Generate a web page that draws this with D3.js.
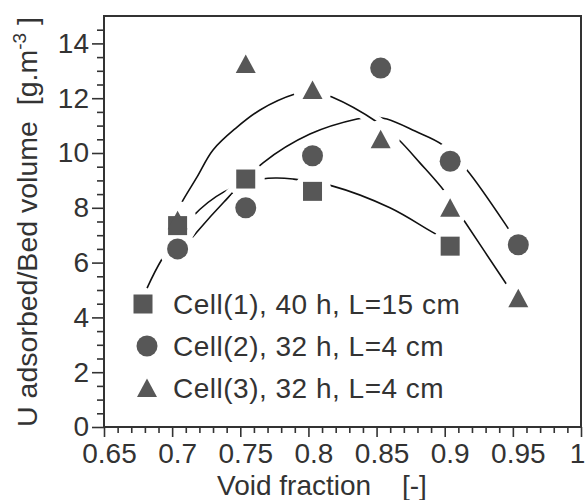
<!DOCTYPE html>
<html>
<head>
<meta charset="utf-8">
<script src="https://cdn.jsdelivr.net/npm/d3@7"></script>
<style>
  body { margin: 0; background: #fff; }
  text { font-family: "Liberation Sans", Arial, Helvetica, sans-serif; fill: #333; white-space: pre; }
</style>
</head>
<body>
<script>
/* global d3 */

// Data
const cell1X = [0.704, 0.754, 0.803, 0.904];
const cell1Y = [7.35, 9.05, 8.6, 6.6];
const cell2X = [0.704, 0.754, 0.803, 0.853, 0.904, 0.954];
const cell2Y = [6.5, 8.0, 9.9, 13.1, 9.7, 6.65];
const cell3X = [0.704, 0.754, 0.803, 0.853, 0.904, 0.954];
const cell3Y = [7.55, 13.25, 12.3, 10.5, 8.0, 4.7];

// Fitted curves
const fit1X = [0.6816, 0.6926, 0.7146, 0.738, 0.7659, 0.7769, 0.7887, 0.8173, 0.8598, 0.8906, 0.9039];
const fit1Y = [5.07, 6.13, 7.66, 8.58, 9.05, 9.09, 9.05, 8.8, 8.0, 7.12, 6.75];
const fit2X = [0.7036, 0.7182, 0.738, 0.7667, 0.8011, 0.8356, 0.8466, 0.8576, 0.8782, 0.8987, 0.9163, 0.9464, 0.953];
const fit2Y = [6.24, 7.12, 8.21, 9.64, 10.69, 11.24, 11.31, 11.24, 10.8, 10.29, 9.38, 7.26, 6.75];
const fit3X = [0.7036, 0.7072, 0.7182, 0.73, 0.7468, 0.7645, 0.7901, 0.8026, 0.8173, 0.8503, 0.8657, 0.8818, 0.9002, 0.9149, 0.9457, 0.953];
const fit3Y = [7.85, 8.21, 9.12, 10.11, 10.91, 11.57, 12.15, 12.26, 12.04, 11.13, 10.51, 9.64, 8.58, 7.48, 5.18, 4.64];

const legendLabels = ['Cell(1), 40 h, L=15 cm', 'Cell(2), 32 h, L=4 cm', 'Cell(3), 32 h, L=4 cm'];
const xTicks = [0.65, 0.7, 0.75, 0.8, 0.85, 0.9, 0.95, 1];
const xTickLabels = ['0.65', '0.7', '0.75', '0.8', '0.85', '0.9', '0.95', '1'];
const yTicks = [0, 2, 4, 6, 8, 10, 12, 14];

const width = 585;
const height = 500;
const markColor = '#575757';
const inkColor = '#333';

const svg = d3.select('body')
.append('svg')
.attr('width', width)
.attr('height', height);

// Scales
const xScale = d3.scaleLinear().domain([0.65, 1]).range([104, 581]);
const yScale = d3.scaleLinear().domain([0, 15]).range([427, 16]);

const series = [
    { shape: 'square', x: cell1X, y: cell1Y, fx: fit1X, fy: fit1Y },
    { shape: 'circle', x: cell2X, y: cell2Y, fx: fit2X, fy: fit2Y },
    { shape: 'triangle', x: cell3X, y: cell3Y, fx: fit3X, fy: fit3Y }
];

// Axes
const minorX = d3.range(65, 101).map(d => d / 100).filter(d => Math.round(d * 100) % 5 !== 0);
const minorY = d3.range(0, 30).map(d => d / 2).filter(d => d % 2 !== 0);

svg.append('g')
.attr('transform', 'translate(0,427)')
.call(d3.axisBottom(xScale).tickValues(minorX).tickSize(6).tickFormat(''));

const xAxis = svg.append('g')
.attr('transform', 'translate(0,427)')
.call(d3.axisBottom(xScale).tickValues(xTicks).tickSize(10).tickPadding(6)
.tickFormat((d, i) => xTickLabels[i]));
xAxis.selectAll('text')
.attr('font-size', 28)
.attr('dx', d => d === 1 ? -4 : 5);

svg.append('g')
.attr('transform', 'translate(104,0)')
.call(d3.axisLeft(yScale).tickValues(minorY).tickSize(7).tickFormat(''));

const yAxis = svg.append('g')
.attr('transform', 'translate(104,0)')
.call(d3.axisLeft(yScale).tickValues(yTicks).tickSize(12).tickPadding(3));
yAxis.selectAll('text').attr('font-size', 28);

svg.selectAll('.domain').remove();
svg.selectAll('.tick line').attr('stroke', inkColor).attr('stroke-width', 1.6);

// Frame
svg.append('rect')
.attr('x', xScale(0.65))
.attr('y', yScale(15))
.attr('width', xScale(1) - xScale(0.65))
.attr('height', yScale(0) - yScale(15))
.attr('fill', 'none')
.attr('stroke', inkColor)
.attr('stroke-width', 2);

// Fit curves (white casing makes the breaks where they cross)
const line = d3.line()
.x(d => xScale(d[0]))
.y(d => yScale(d[1]))
.curve(d3.curveCatmullRom.alpha(0.5));

series.forEach(s => {
    const pts = s.fx.map((x, i) => [x, s.fy[i]]);
    svg.append('path').attr('d', line(pts))
    .attr('fill', 'none').attr('stroke', '#fff').attr('stroke-width', 12);
    svg.append('path').attr('d', line(pts))
    .attr('fill', 'none').attr('stroke', '#111').attr('stroke-width', 1.6);
});

// White halos round the markers
series.forEach(s => {
    svg.selectAll(null)
    .data(s.x.map((x, i) => [x, s.y[i]]))
    .enter()
    .append('circle')
    .attr('cx', d => xScale(d[0]))
    .attr('cy', d => yScale(d[1]))
    .attr('r', 19)
    .attr('fill', '#fff');
});

function drawMarker(g, shape, cx, cy) {
    if (shape === 'square') {
        g.append('rect').attr('x', cx - 9.5).attr('y', cy - 9.5)
        .attr('width', 19).attr('height', 19).attr('fill', markColor);
    } else if (shape === 'circle') {
        g.append('circle').attr('cx', cx).attr('cy', cy).attr('r', 10.5).attr('fill', markColor);
    } else {
        g.append('path')
        .attr('d', `M${ cx },${ cy - 9.5 }L${ cx + 10 },${ cy + 9 }L${ cx - 10 },${ cy + 9 }Z`)
        .attr('fill', markColor);
    }
}

const marks = svg.append('g');
series.forEach(s => {
    s.x.forEach((x, i) => drawMarker(marks, s.shape, xScale(x), yScale(s.y[i])));
});

// Legend
const legendX = [143, 147, 147];
series.forEach((s, i) => {
    const cy = 304 + i * 42;
    drawMarker(marks, s.shape, legendX[i], cy);
    svg.append('text')
    .attr('x', 173)
    .attr('y', cy + 10)
    .attr('font-size', 28)
    .attr('letter-spacing', 0.5)
    .text(legendLabels[i]);
});

// Axis titles
const xTitle = svg.append('text')
.attr('x', 217)
.attr('y', 495)
.attr('font-size', 28);
xTitle.append('tspan').text('Void fraction');
xTitle.append('tspan').attr('x', 402).text('[-]');

const yTitle = svg.append('text')
.attr('transform', 'translate(37,222) rotate(-90)')
.attr('text-anchor', 'middle')
.attr('font-size', 28.5);
yTitle.append('tspan').text('U adsorbed/Bed volume  [g.m');
yTitle.append('tspan').attr('font-size', 19).attr('dy', -11).text('-3');
yTitle.append('tspan').attr('dy', 11).text(' ]');
</script>
</body>
</html>
